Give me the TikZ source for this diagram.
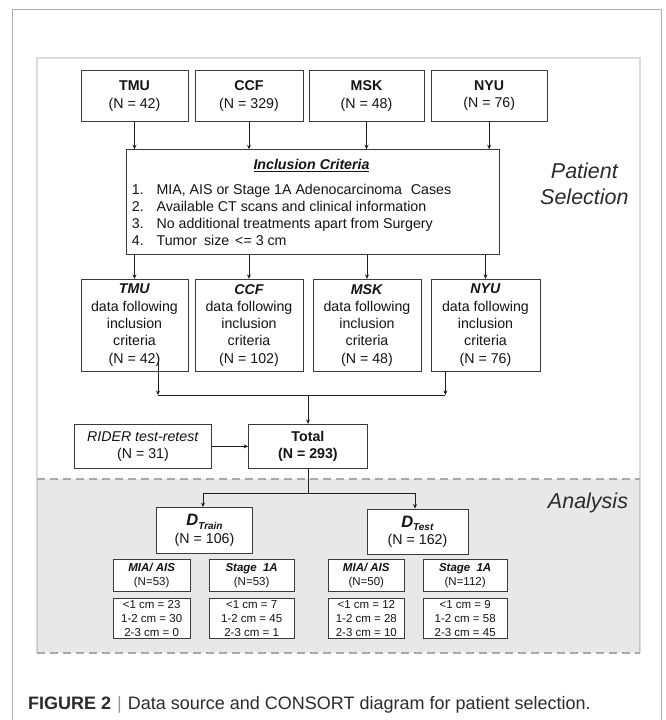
\documentclass[tikz,border=0pt]{standalone}
\usepackage{fontspec}
\setmainfont{Liberation Sans}
\usetikzlibrary{arrows.meta}
\definecolor{boxc}{HTML}{3A3A3A}
\definecolor{linec}{HTML}{1E1E1E}
\definecolor{panelc}{HTML}{DCDCDC}
\definecolor{framec}{HTML}{B0B0B0}
\definecolor{grayfill}{HTML}{E8E8E8}
\definecolor{dashc}{HTML}{A8A8A8}
\definecolor{capc}{HTML}{2B2B2B}
\definecolor{txtc}{HTML}{141414}
\tikzset{
  box/.style={draw=boxc, line width=0.9pt, fill=white, inner sep=0pt, align=center, text=txtc,
    font=\fontsize{14.2}{17.3}\selectfont},
  smallbox/.style={box, line width=0.8pt, font=\fontsize{11.5}{14.1}\selectfont},
  sizebox/.style={box, line width=0.8pt, font=\fontsize{11.5}{13.9}\selectfont},
  arr/.style={draw=linec, line width=0.8pt, -{Stealth[length=4.5pt,width=4pt]}},
  conn/.style={draw=linec, line width=0.8pt},
  itemtxt/.style={anchor=base west, inner sep=0pt, text=txtc, font=\fontsize{14.2}{17}\selectfont},
  sidelabel/.style={inner sep=0pt, align=center, text=capc, font=\fontsize{21.5}{25.7}\selectfont\itshape},
}
\newcommand{\dsub}[1]{{\fontsize{16.5}{18}\selectfont\textbf{\textit{D}}}{\fontsize{10}{10}\selectfont\raisebox{-3.5pt}{\textbf{\textit{#1}}}}}
\begin{document}
\begin{tikzpicture}[x=1pt,y=-1pt]
\useasboundingbox (0,0) rectangle (665,720);
% outer frame
\draw[framec, line width=1.2pt] (12.7,725) -- (12.7,9.5) -- (661.7,9.5) -- (661.7,725);
% inner panel
\draw[panelc, line width=2pt] (37,653) -- (37,58) -- (640,58) -- (640,653);
% analysis region
\fill[grayfill] (37,479) rectangle (640,653);
\draw[panelc!90!black, line width=1pt] (37.5,479) -- (37.5,653) (639.5,479) -- (639.5,653);
\draw[dashc, line width=1.8pt, dash pattern=on 8pt off 5pt] (37,479) -- (640,479);
\draw[dashc, line width=1.8pt, dash pattern=on 8pt off 5pt] (37,653) -- (640,653);

% side labels
\node[sidelabel] (psel) at (584.4,183.5) {Patient\\Selection};
\node[sidelabel] (anal) at (588,502.7) {Analysis};

% top sources
\node[box, minimum width=107pt, minimum height=51pt] (tmu) at (134.5,96) {\textbf{TMU}\\(N = 42)};
\node[box, minimum width=108pt, minimum height=51pt] (ccf) at (249,96) {\textbf{CCF}\\(N = 329)};
\node[box, minimum width=115pt, minimum height=51pt] (msk) at (366.5,96) {\textbf{MSK}\\(N = 48)};
\node[box, minimum width=116pt, minimum height=51pt] (nyu) at (489.2,95.5) {\textbf{NYU}\\(N = 76)};

% inclusion criteria
\node[box, minimum width=373.5pt, minimum height=104.3pt] (inc) at (312.75,201.85) {};
\node[inner sep=0pt, text=txtc, font=\fontsize{14.2}{17}\selectfont] (inct) at (311.5,165.3) {\textbf{\textit{\underline{Inclusion Criteria}}}};
\node[itemtxt] (n1) at (131.7,194.2) {1.};
\node[itemtxt] (t1) at (156.4,194.2) {MIA, AIS or Stage 1A Adenocarcinoma\hspace{5pt} Cases};
\node[itemtxt] (n2) at (131.7,211.4) {2.};
\node[itemtxt] (t2) at (156.4,211.4) {Available CT scans and clinical information};
\node[itemtxt] (n3) at (131.7,228.2) {3.};
\node[itemtxt] (t3) at (156.4,228.2) {No additional treatments apart from Surgery};
\node[itemtxt] (n4) at (131.7,245.4) {4.};
\node[itemtxt] (t4) at (156.4,245.4) {Tumor\hspace{3pt} size\hspace{2pt} <= 3 cm};

\foreach \s in {tmu,ccf,msk,nyu} \draw[arr] (\s.south) -- (\s.south |- inc.north);

% filtered datasets
\node[box, minimum width=107pt, minimum height=91.7pt] (tmu2) at (134.5,325.15) {\textbf{\textit{TMU}}\\data following\\inclusion\\criteria\\(N = 42)};
\node[box, minimum width=108pt, minimum height=91.7pt] (ccf2) at (249,325.15) {\textbf{\textit{CCF}}\\data following\\inclusion\\criteria\\(N = 102)};
\node[box, minimum width=108pt, minimum height=91.7pt] (msk2) at (367,325.15) {\textbf{\textit{MSK}}\\data following\\inclusion\\criteria\\(N = 48)};
\node[box, minimum width=109pt, minimum height=91.7pt] (nyu2) at (485.5,325.15) {\textbf{\textit{NYU}}\\data following\\inclusion\\criteria\\(N = 76)};

\foreach \s in {tmu2,ccf2,msk2,nyu2} \draw[arr] (inc.south -| \s.north) -- (\s.north);

% merge
\coordinate (mL) at (158,395);
\coordinate (mR) at (445.4,395);
\coordinate (mC) at (308,395);
\node[box, minimum width=118.6pt, minimum height=44pt] (total) at (307.9,446.3) {\textbf{Total}\\\textbf{(N = 293)}};
\node[box, minimum width=137.2pt, minimum height=44pt] (rider) at (143,446.3) {\textit{RIDER test-retest}\\(N = 31)};
\draw[arr] ([yshift=9pt]tmu2.south -| mL) -- (mL);
\draw[arr] (nyu2.south -| mR) -- (mR);
\draw[conn] (mL) -- (mR);
\draw[arr] (mC) -- (mC |- total.north);
\draw[arr] (rider.east) -- (total.west);

% split
\coordinate (sC) at (308,493.3);
\coordinate (sL) at (203,493.3);
\coordinate (sR) at (415,493.3);
\node[box, minimum width=95.6pt, minimum height=45.5pt] (dtrain) at (204.5,530.25) {\dsub{Train}\\(N = 106)};
\node[box, minimum width=101pt, minimum height=45pt] (dtest) at (417.5,531.5) {\dsub{Test}\\(N = 162)};
\draw[conn] (total.south -| sC) -- (sC);
\draw[conn] (sL) -- (sR);
\draw[arr] (sL) -- (sL |- dtrain.north);
\draw[arr] (sR) -- (sR |- dtest.north);

% subgroups
\node[smallbox, minimum width=76.7pt, minimum height=32.4pt] (mia1) at (151.65,575.5) {\textbf{\textit{MIA/ AIS}}\\(N=53)};
\node[smallbox, minimum width=84.7pt, minimum height=32.4pt] (stg1) at (251.65,575.5) {\textbf{\textit{Stage\hspace{3pt} 1A}}\\(N=53)};
\node[smallbox, minimum width=76pt, minimum height=32.4pt] (mia2) at (366.3,575.5) {\textbf{\textit{MIA/ AIS}}\\(N=50)};
\node[smallbox, minimum width=83.7pt, minimum height=32.4pt] (stg2) at (465.15,575.5) {\textbf{\textit{Stage\hspace{3pt} 1A}}\\(N=112)};

\node[sizebox, minimum width=76.7pt, minimum height=40.4pt] (sz1) at (151.65,618.5) {<1 cm = 23\\1-2 cm = 30\\2-3 cm = 0};
\node[sizebox, minimum width=84.7pt, minimum height=40.4pt] (sz2) at (251.65,618.5) {<1 cm = 7\\1-2 cm = 45\\2-3 cm = 1};
\node[sizebox, minimum width=76pt, minimum height=40.4pt] (sz3) at (366.3,618.5) {<1 cm = 12\\1-2 cm = 28\\2-3 cm = 10};
\node[sizebox, minimum width=83.7pt, minimum height=40.4pt] (sz4) at (465.15,618.5) {<1 cm = 9\\1-2 cm = 58\\2-3 cm = 45};

% caption
\node[anchor=base west, inner sep=0pt, text=capc, font=\fontsize{18}{20}\selectfont] (cap) at (28,709.5)
  {\textbf{FIGURE 2}\hspace{6pt}{\color{gray!80}|}\hspace{6pt}Data source and CONSORT diagram for patient selection.};
\end{tikzpicture}
\end{document}
